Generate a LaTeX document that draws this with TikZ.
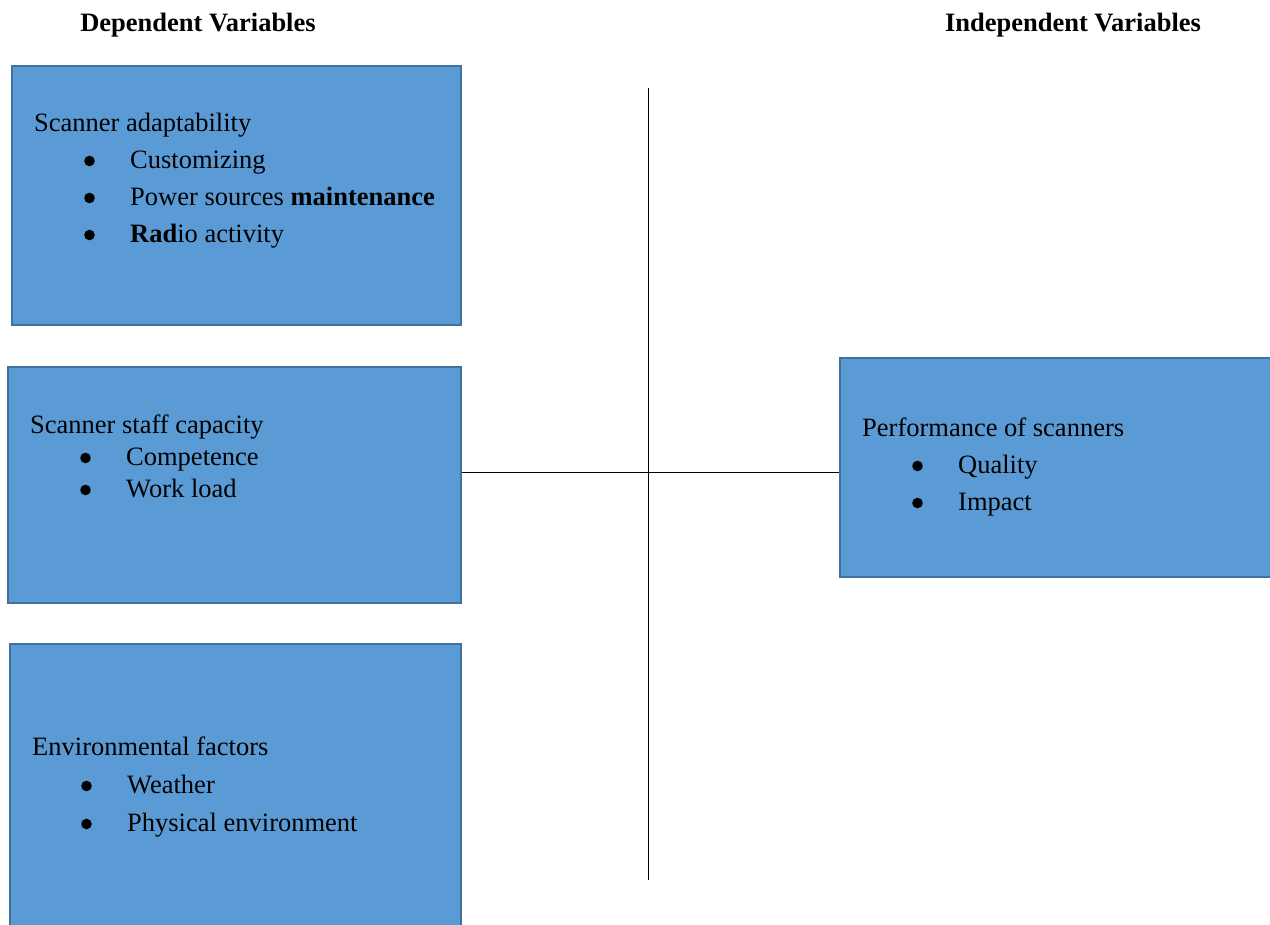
\documentclass[tikz,border=0pt]{standalone}
\usepackage{fontspec}
\setmainfont{Liberation Serif}
\usepackage{xcolor}
\usepackage{tikz}
\definecolor{boxfill}{HTML}{5B9BD5}
\definecolor{boxline}{HTML}{41719C}

\begin{document}
\begin{tikzpicture}[
  x=1pt, y=1pt,
  every node/.style={font=\fontsize{26.5}{32}\selectfont},
  varbox/.style={draw=boxline, fill=boxfill, line width=1.5pt, rectangle, inner sep=0pt},
  head/.style={anchor=base west, inner sep=0pt},
  item/.style={anchor=base west, inner sep=0pt},
  dot/.style={fill=black},
  title/.style={anchor=base, inner sep=0pt, font=\fontsize{26.5}{32}\selectfont\bfseries},
  link/.style={draw=black, line width=1pt}
]
\useasboundingbox (0,0) rectangle (1270,925);

\node[title] (dep) at (198,893) {Dependent Variables};
\node[title] (indep) at (1073,893) {Independent Variables};

\node[varbox, minimum width=449pt, minimum height=259pt] (adapt) at (236.5,729.5) {};
\node[varbox, minimum width=453pt, minimum height=236pt] (staff) at (234.5,440) {};
\node[varbox, minimum width=451pt, minimum height=291pt] (env) at (235.5,135.5) {};
\node[varbox, minimum width=440pt, minimum height=219pt] (perf) at (1060,457.5) {};

\node[head] (adapt-h) at (34,793) {Scanner adaptability};
\foreach \txt [count=\i] in {Customizing, Power sources \textbf{maintenance}, \textbf{Rad}io activity} {
  \node[item] (adapt-\i) at (130,793-\i*37) {\txt};
  \fill[dot] ([shift={(-40.5,8)}]adapt-\i.base west) circle (5.3pt);
}

\node[head] (staff-h) at (30,491) {Scanner staff capacity};
\foreach \txt [count=\i] in {Competence, Work load} {
  \node[item] (staff-\i) at (126,491-\i*32) {\txt};
  \fill[dot] ([shift={(-40.5,8)}]staff-\i.base west) circle (5.3pt);
}

\node[head] (env-h) at (32,169) {Environmental factors};
\foreach \txt [count=\i] in {Weather, Physical environment} {
  \node[item] (env-\i) at (127,169-\i*38) {\txt};
  \fill[dot] ([shift={(-40.5,8)}]env-\i.base west) circle (5.3pt);
}

\node[head] (perf-h) at (862,488) {Performance of scanners};
\foreach \txt [count=\i] in {Quality, Impact} {
  \node[item] (perf-\i) at (958,488-\i*37) {\txt};
  \fill[dot] ([shift={(-40.5,8)}]perf-\i.base west) circle (5.3pt);
}

\coordinate (vtop) at (648,837);
\coordinate (vbot) at (648,45);
\coordinate (hub) at (648,452);
\draw[link] (vtop) -- (vbot);
\draw[link] (staff.east |- hub) -- (perf.west |- hub);
\end{tikzpicture}
\end{document}
